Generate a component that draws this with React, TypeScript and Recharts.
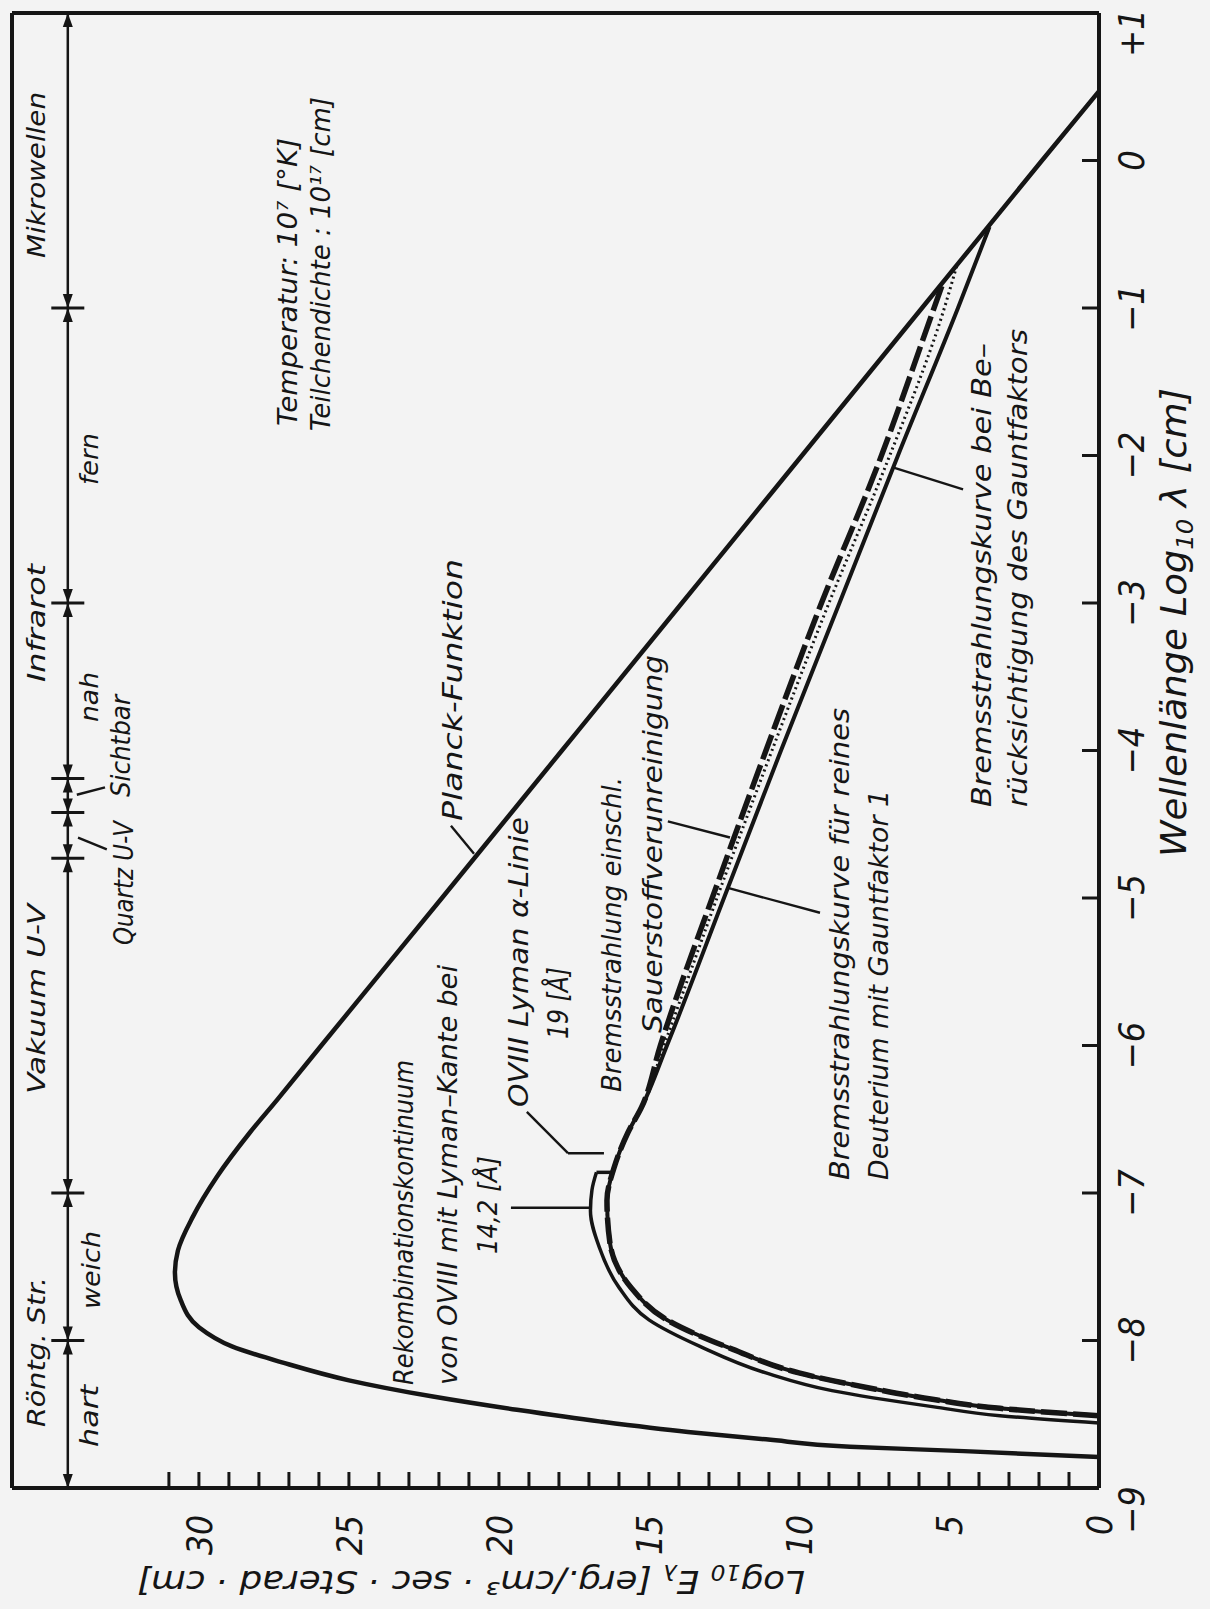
import React from "react";
import { LineChart, Line, XAxis, YAxis, ReferenceLine, ReferenceDot } from "recharts";

const INK = "#151515";
const PAPER = "#f3f3f3";
const FONT = '"DejaVu Sans Condensed", "Liberation Sans Narrow", "DejaVu Sans", sans-serif';

// axes: log10 wavelength [cm] and log10 E_lambda
const lamTicks = [-9, -8, -7, -6, -5, -4, -3, -2, -1, 0, 1];
const eTicks = [0, 1, 2, 3, 4, 5, 6, 7, 8, 9, 10, 11, 12, 13, 14, 15, 16, 17, 18, 19, 20, 21, 22, 23, 24, 25, 26, 27, 28, 29, 30, 31];
const E_TOP = 36.23;

// Planck function, T = 1e7 K
const planck = [
  { lam: -8.79, e: 0 }, { lam: -8.75, e: 4.5 }, { lam: -8.72, e: 8.3 }, { lam: -8.67, e: 11.1 },
  { lam: -8.62, e: 13.7 }, { lam: -8.55, e: 16.6 }, { lam: -8.47, e: 19.4 }, { lam: -8.38, e: 22.2 },
  { lam: -8.27, e: 25.0 }, { lam: -8.15, e: 27.2 }, { lam: -8.04, e: 28.9 }, { lam: -7.91, e: 30.0 },
  { lam: -7.73, e: 30.6 }, { lam: -7.54, e: 30.8 }, { lam: -7.39, e: 30.7 }, { lam: -7.16, e: 30.2 },
  { lam: -6.89, e: 29.4 }, { lam: -6.59, e: 28.3 }, { lam: -6.37, e: 27.4 }, { lam: -6.0, e: 25.92 },
  { lam: -5.0, e: 21.9 }, { lam: -4.0, e: 17.9 }, { lam: -3.0, e: 13.9 }, { lam: -2.0, e: 9.9 },
  { lam: -1.0, e: 5.9 }, { lam: 0.0, e: 1.9 }, { lam: 0.47, e: 0 },
];

// short-wave part shared by the three bremsstrahlung curves
const bremsHead = [
  { lam: -8.51, e: 0 }, { lam: -8.46, e: 3.3 }, { lam: -8.40, e: 5.5 }, { lam: -8.32, e: 7.7 },
  { lam: -8.22, e: 10.0 }, { lam: -8.06, e: 12.2 }, { lam: -7.86, e: 14.4 }, { lam: -7.64, e: 15.6 },
  { lam: -7.34, e: 16.3 }, { lam: -7.05, e: 16.4 }, { lam: -6.82, e: 16.15 }, { lam: -6.59, e: 15.7 },
  { lam: -6.42, e: 15.25 },
];
// pure deuterium, Gaunt factor 1 (solid)
const bremsGaunt1 = [
  { lam: -6.0, e: 14.4 }, { lam: -5.0, e: 12.5 }, { lam: -4.0, e: 10.6 }, { lam: -3.0, e: 8.65 },
  { lam: -2.0, e: 6.7 }, { lam: -1.0, e: 4.7 }, { lam: -0.45, e: 3.65 },
];
// with Gaunt factor (dotted)
const bremsGaunt = [
  { lam: -6.0, e: 14.5 }, { lam: -4.87, e: 12.5 }, { lam: -4.0, e: 10.9 }, { lam: -3.0, e: 9.0 },
  { lam: -2.08, e: 7.13 }, { lam: -1.03, e: 5.2 }, { lam: -0.72, e: 4.75 },
];
// including oxygen impurity (dashed)
const bremsOxygen = [
  { lam: -6.0, e: 14.62 }, { lam: -4.87, e: 12.66 }, { lam: -4.0, e: 11.1 }, { lam: -3.0, e: 9.25 },
  { lam: -2.08, e: 7.4 }, { lam: -1.03, e: 5.55 }, { lam: -0.83, e: 5.2 },
];
// OVIII recombination continuum, Lyman edge 14.2 A
const recomb = [
  { lam: -8.56, e: 0 }, { lam: -8.51, e: 3.3 }, { lam: -8.45, e: 5.5 }, { lam: -8.34, e: 8.9 },
  { lam: -8.22, e: 11.1 }, { lam: -8.04, e: 13.3 }, { lam: -7.86, e: 15.0 }, { lam: -7.64, e: 16.0 },
  { lam: -7.37, e: 16.65 }, { lam: -7.12, e: 16.95 }, { lam: -6.98, e: 16.9 }, { lam: -6.86, e: 16.75 },
];

// spectral ranges along the top strip
const bandEdges = [-8, -7, -4.73, -4.42, -4.19, -3, -1];
const BAND_E = 34.37;

const leaders = [
  [{ x: -4.51, y: 21.6 }, { x: -4.70, y: 20.83 }],
  [{ x: -7.10, y: 19.6 }, { x: -7.10, y: 16.9 }],
  [{ x: -6.45, y: 19.07 }, { x: -6.73, y: 17.7 }],
  [{ x: -6.73, y: 17.7 }, { x: -6.73, y: 16.5 }],
  [{ x: -4.48, y: 14.37 }, { x: -4.59, y: 12.3 }],
  [{ x: -4.93, y: 12.4 }, { x: -5.10, y: 9.3 }],
  [{ x: -2.08, y: 6.87 }, { x: -2.23, y: 4.53 }],
  [{ x: -4.30, y: 34.07 }, { x: -4.25, y: 33.13 }],
  [{ x: -4.59, y: 34.03 }, { x: -4.67, y: 33.07 }],
];

const notes = [
  { t: "Mikrowellen", x: 1351, y: 45, len: 166, fs: 25 },
  { t: "Infrarot", x: 927, y: 45, len: 118, fs: 25 },
  { t: "Vakuum U-V", x: 515, y: 45, len: 190, fs: 25 },
  { t: "Röntg. Str.", x: 182, y: 45, len: 150, fs: 25 },
  { t: "hart", x: 162, y: 98, len: 62, fs: 25 },
  { t: "weich", x: 300, y: 100, len: 78, fs: 25 },
  { t: "Quartz U-V", x: 664, y: 133, len: 124, fs: 26 },
  { t: "nah", x: 887, y: 98, len: 50, fs: 25 },
  { t: "Sichtbar", x: 812, y: 130, len: 102, fs: 26 },
  { t: "fern", x: 1124, y: 98, len: 52, fs: 25 },
  { t: "Temperatur: 10⁷ [°K]", x: 1183, y: 297, len: 288, fs: 27 },
  { t: "Teilchendichte : 10¹⁷ [cm]", x: 1178, y: 330, len: 334, fs: 27 },
  { t: "Planck-Funktion", x: 788, y: 462, len: 262, fs: 27 },
  { t: "Rekombinationskontinuum", x: 224, y: 413, len: 325, fs: 27 },
  { t: "von OVIII mit Lyman–Kante bei", x: 224, y: 457, len: 420, fs: 27 },
  { t: "14,2 [Å]", x: 355, y: 497, len: 98, fs: 27 },
  { t: "OVIII Lyman α-Linie", x: 502, y: 528, len: 290, fs: 27 },
  { t: "19 [Å]", x: 570, y: 568, len: 72, fs: 28 },
  { t: "Bremsstrahlung einschl.", x: 517, y: 621, len: 315, fs: 27 },
  { t: "Sauerstoffverunreinigung", x: 576, y: 662, len: 378, fs: 27 },
  { t: "Bremsstrahlungskurve für reines", x: 429, y: 849, len: 472, fs: 27 },
  { t: "Deuterium mit Gauntfaktor 1", x: 429, y: 888, len: 390, fs: 27 },
  { t: "Bremsstrahlungskurve bei Be–", x: 802, y: 991, len: 464, fs: 27 },
  { t: "rücksichtigung des Gauntfaktors", x: 802, y: 1027, len: 478, fs: 27 },
];

const fmtLam = (v: number) => (v === 1 ? "+1" : v < 0 ? "−" + Math.abs(v) : String(v));

const XTick = (p: any) => {
  const v = p.payload.value;
  const shift = v === -9 ? -22 : v === 1 ? -20 : 0;
  return (
    <g>
      {v > -9 && v < 1 && <line x1={p.x} y1={p.y} x2={p.x} y2={p.y - 17} stroke={INK} strokeWidth={3} />}
      <text x={p.x + shift} y={p.y + 45} textAnchor="middle" fontFamily={FONT} fontStyle="italic" fontSize={36} fill={INK}>
        {fmtLam(v)}
      </text>
    </g>
  );
};

const YTick = (p: any) => {
  const v = p.payload.value;
  return (
    <g>
      {v > 0 && <line x1={p.x} y1={p.y} x2={p.x + 16} y2={p.y} stroke={INK} strokeWidth={3} />}
      {v % 5 === 0 && (
        <text x={p.x - 27} y={p.y} dy="0.36em" textAnchor="end" fontFamily={FONT} fontStyle="italic" fontSize={35} fill={INK}>
          {v}
        </text>
      )}
    </g>
  );
};

const arrow = (dir: number) => (p: any) => (
  <path d={`M${p.cx},${p.cy} l${-dir * 14},-5 l0,10 z`} fill={INK} />
);

export default function App() {
  return (
    <div style={{ position: "absolute", left: 0, top: 0, width: 1210, height: 1609, overflow: "hidden", background: PAPER }}>
      <div style={{ position: "absolute", left: 0, top: 0, width: 1609, height: 1210, transformOrigin: "0 0", transform: "translateY(1609px) rotate(-90deg)" }}>
        <div style={{ position: "absolute", left: 0, top: 0 }}>
          <LineChart width={1609} height={1210} margin={{ top: 12, right: 13, left: 21, bottom: 11 }}>
            <XAxis type="number" dataKey="lam" domain={[-9, 1]} ticks={lamTicks} interval={0} allowDataOverflow
              height={100} tickSize={0} tickMargin={0} tickLine={false} axisLine={{ stroke: INK, strokeWidth: 4 }}
              tick={(p: any) => <XTick {...p} />} />
            <YAxis type="number" domain={[0, E_TOP]} ticks={eTicks} interval={0} allowDataOverflow
              width={100} tickSize={0} tickMargin={0} tickLine={false} axisLine={{ stroke: INK, strokeWidth: 4 }}
              tick={(p: any) => <YTick {...p} />} />
            <ReferenceLine y={E_TOP} stroke={INK} strokeWidth={4} ifOverflow="visible" />
            <ReferenceLine x={1} stroke={INK} strokeWidth={4} ifOverflow="visible" />

            <Line data={planck} dataKey="e" type="monotone" stroke={INK} strokeWidth={4.5} dot={false} isAnimationActive={false} />
            <Line data={recomb} dataKey="e" type="monotone" stroke={INK} strokeWidth={3.5} dot={false} isAnimationActive={false} />
            <Line data={[...bremsHead, ...bremsGaunt1]} dataKey="e" type="monotone" stroke={INK} strokeWidth={4} dot={false} isAnimationActive={false} />
            <Line data={[...bremsHead, ...bremsGaunt]} dataKey="e" type="monotone" stroke={INK} strokeWidth={3} strokeDasharray="2 3.5" dot={false} isAnimationActive={false} />
            <Line data={[...bremsHead, ...bremsOxygen]} dataKey="e" type="monotone" stroke={INK} strokeWidth={5.5} strokeDasharray="26 6" dot={false} isAnimationActive={false} />

            <ReferenceLine segment={[{ x: -6.86, y: 16.75 }, { x: -6.86, y: 16.25 }]} stroke={INK} strokeWidth={3.5} />
            {leaders.map((s, i) => (
              <ReferenceLine key={"l" + i} segment={s} stroke={INK} strokeWidth={2.4} ifOverflow="visible" />
            ))}

            <ReferenceLine segment={[{ x: -9, y: BAND_E }, { x: 1, y: BAND_E }]} stroke={INK} strokeWidth={2.5} ifOverflow="visible" />
            {bandEdges.map((b) => (
              <ReferenceLine key={"c" + b} segment={[{ x: b, y: BAND_E + 0.55 }, { x: b, y: BAND_E - 0.55 }]} stroke={INK} strokeWidth={3} ifOverflow="visible" />
            ))}
            {bandEdges.map((b) => (
              <ReferenceDot key={"a" + b} x={b} y={BAND_E} ifOverflow="visible" shape={arrow(1)} />
            ))}
            {bandEdges.map((b) => (
              <ReferenceDot key={"b" + b} x={b} y={BAND_E} ifOverflow="visible" shape={arrow(-1)} />
            ))}
            <ReferenceDot x={-9} y={BAND_E} ifOverflow="visible" shape={arrow(-1)} />
            <ReferenceDot x={1} y={BAND_E} ifOverflow="visible" shape={arrow(1)} />
          </LineChart>
        </div>
        <svg width={1609} height={1210} style={{ position: "absolute", left: 0, top: 0, pointerEvents: "none" }}>
          <g fontFamily={FONT} fontStyle="italic" fill={INK}>
            {notes.map((n) => (
              <text key={n.t} x={n.x} y={n.y} fontSize={n.fs} textLength={n.len} lengthAdjust="spacingAndGlyphs">
                {n.t}
              </text>
            ))}
            <text x={752} y={1186} fontSize={35} textLength={469} lengthAdjust="spacingAndGlyphs">
              Wellenlänge Log<tspan fontSize={23} dy={7}>10</tspan><tspan dy={-7}> λ [cm]</tspan>
            </text>
            <text x={38} y={805} transform="rotate(-90 38 805)" fontSize={32} textLength={668} lengthAdjust="spacingAndGlyphs">
              Log<tspan fontSize={21} dy={6}>10</tspan><tspan dy={-6}> E</tspan><tspan fontSize={21} dy={6}>λ</tspan><tspan dy={-6}> [erg./cm³ · sec · Sterad · cm]</tspan>
            </text>
          </g>
        </svg>
      </div>
    </div>
  );
}
